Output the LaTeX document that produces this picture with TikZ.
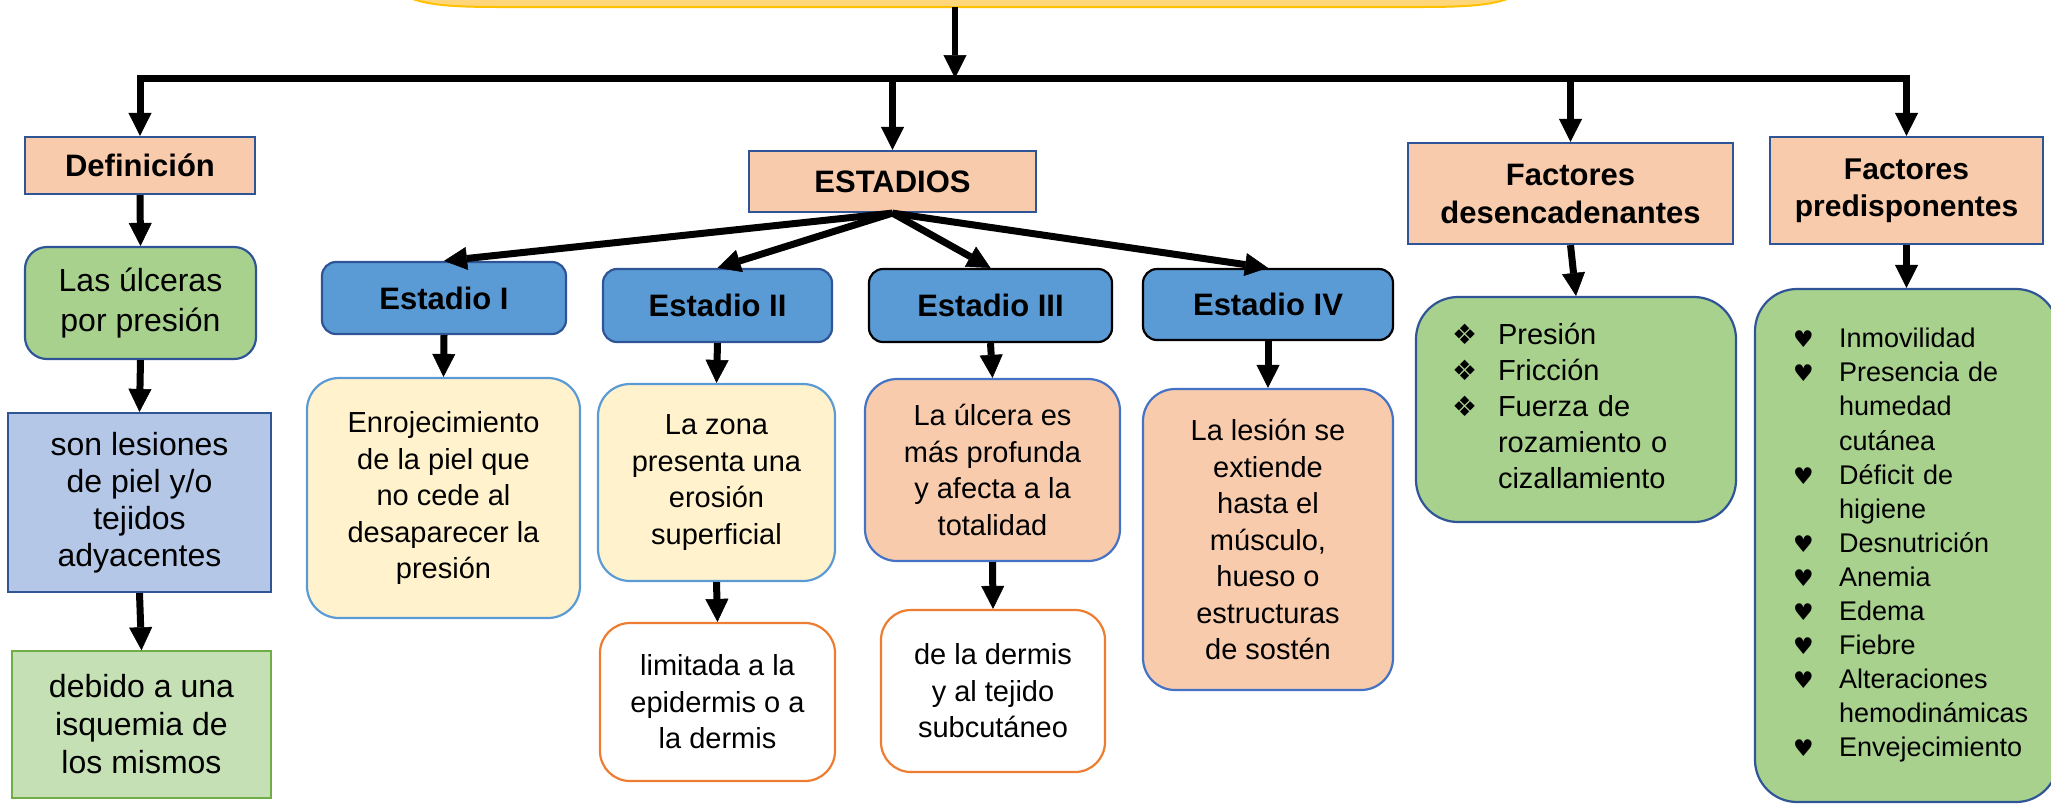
\documentclass[tikz,border=0pt]{standalone}
\usepackage{fontspec}
\setmainfont{Liberation Sans}
\newfontfamily\symfont{DejaVu Sans}
\usetikzlibrary{arrows.meta}
\definecolor{peach}{HTML}{F8CBAD}
\definecolor{dblue}{HTML}{2F5597}
\definecolor{gfill}{HTML}{A9D18E}
\definecolor{lblue}{HTML}{B4C7E7}
\definecolor{lgreen}{HTML}{C5E0B4}
\definecolor{ggreen}{HTML}{70AD47}
\definecolor{sblue}{HTML}{5B9BD5}
\definecolor{cream}{HTML}{FFF2CC}
\definecolor{mblue}{HTML}{4472C4}
\definecolor{orng}{HTML}{ED7D31}
\definecolor{topfill}{HTML}{FFD77A}
\definecolor{topline}{HTML}{FFC000}
\newcommand\bullA{{\symfont\fontsize{28}{28}\selectfont ❖}}
\newcommand\bullH{{\symfont\fontsize{23}{23}\selectfont ♥}}
\tikzset{
  bx/.style={inner sep=0pt, align=center, line width=2.2pt, text=black},
  hdr/.style={bx, rectangle, fill=peach, draw=dblue, font={\fontsize{31}{38}\selectfont\bfseries}},
  stg/.style={bx, rounded corners=14pt, fill=sblue, draw=dblue, font={\fontsize{31}{38}\selectfont\bfseries}},
  cre/.style={bx, rounded corners=32pt, fill=cream, draw=sblue, font={\fontsize{29}{36.5}\selectfont}},
  pch/.style={bx, rounded corners=32pt, fill=peach, draw=mblue, font={\fontsize{29}{36.5}\selectfont}},
  wht/.style={bx, rounded corners=30pt, fill=white, draw=orng, font={\fontsize{29}{36.5}\selectfont}},
  lst/.style={bx, rounded corners=42pt, fill=gfill, draw=dblue},
  tipA/.tip={Triangle[width=23pt,length=23pt,line width=0.5pt]},
  conn/.style={line width=7pt, -tipA},
}
\begin{document}
\begin{tikzpicture}[x=1pt,y=-1pt]
\useasboundingbox (0,0) rectangle (2051,807);
% title box (cut off at the top)
\draw[draw=topline, fill=topfill, line width=2pt] (393,-12) .. controls (412,4) and (440,7) .. (500,7) -- (1420,7) .. controls (1480,7) and (1508,4) .. (1527,-12) -- cycle;
\coordinate (topc) at (955,7);
\coordinate (bar) at (0,78);

% left column
\node[hdr, minimum width=230pt, minimum height=57pt] (def) at (140,165.5) {Definición};
\node[bx, rounded corners=22pt, fill=gfill, draw=dblue, font={\fontsize{32}{40}\selectfont}, minimum width=231pt, minimum height=112pt] (ulc) at (140.5,303) {Las úlceras\\por presión};
\node[bx, fill=lblue, draw=dblue, font={\fontsize{32}{37}\selectfont}, minimum width=263pt, minimum height=179pt] (son) at (139.5,502.5) {son lesiones\\de piel y/o\\tejidos\\adyacentes};
\node[bx, fill=lgreen, draw=ggreen, line width=1.5pt, font={\fontsize{32}{38}\selectfont}, minimum width=259pt, minimum height=147pt] (deb) at (141.5,724.5) {debido a una\\isquemia de\\los mismos};

% estadios
\node[hdr, minimum width=287pt, minimum height=61pt] (est) at (892.5,181.5) {ESTADIOS};
\node[stg, minimum width=244pt, minimum height=72pt] (e1) at (444,298) {Estadio I};
\node[stg, minimum width=229pt, minimum height=73pt] (e2) at (717.5,305.5) {Estadio II};
\node[stg, draw=black, minimum width=243pt, minimum height=73pt] (e3) at (990.5,305.5) {Estadio III};
\node[stg, draw=black, minimum width=250pt, minimum height=71pt] (e4) at (1268,304.5) {Estadio IV};
\node[cre, minimum width=273pt, minimum height=240pt] (t1) at (443.5,498) {Enrojecimiento\\de la piel que\\no cede al\\desaparecer la\\presión};
\node[cre, minimum width=237pt, minimum height=197pt] (t2) at (716.5,482.5) {La zona\\presenta una\\erosión\\superficial};
\node[wht, minimum width=235pt, minimum height=158pt] (t2b) at (717.5,702) {limitada a la\\epidermis o a\\la dermis};
\node[pch, minimum width=255pt, minimum height=182pt] (t3) at (992.5,470) {La úlcera es\\más profunda\\y afecta a la\\totalidad};
\node[wht, minimum width=224pt, minimum height=162pt] (t3b) at (993,691) {de la dermis\\y al tejido\\subcutáneo};
\node[pch, minimum width=250pt, minimum height=301pt] (t4) at (1268,539.5) {La lesión se\\extiende\\hasta el\\músculo,\\hueso o\\estructuras\\de sostén};

% factores
\node[hdr, minimum width=325pt, minimum height=101pt] (fd) at (1570.5,193.5) {Factores\\desencadenantes};
\node[hdr, font={\fontsize{30}{37}\selectfont\bfseries}, minimum width=273pt, minimum height=107pt] (fp) at (1906.5,190.5) {Factores\\predisponentes};
\node[lst, minimum width=320pt, minimum height=225pt, text width=320pt, align=left, font={\fontsize{29}{36}\selectfont}] (l1) at (1576,409.5) {\hspace*{36pt}\begin{tabular}{@{}p{46pt}@{}l@{}}\bullA&Presión\\\bullA&Fricción\\\bullA&Fuerza de\\&rozamiento o\\&cizallamiento\end{tabular}};
\node[lst, minimum width=303pt, minimum height=513pt, text width=303pt, align=left, font={\fontsize{27}{34.1}\selectfont}] (l2) at (1906.5,545.5) {\hspace*{38pt}\raisebox{8pt}{\begin{tabular}{@{}p{46pt}@{}l@{}}\bullH&Inmovilidad\\\bullH&Presencia de\\&humedad\\&cutánea\\\bullH&Déficit de\\&higiene\\\bullH&Desnutrición\\\bullH&Anemia\\\bullH&Edema\\\bullH&Fiebre\\\bullH&Alteraciones\\&hemodinámicas\\\bullH&Envejecimiento\end{tabular}}};

% connectors
\draw[line width=6pt, -tipA] (topc) -- (topc |- bar);
\draw[conn, tipA-tipA, line join=miter] (def.north) -- (def.north |- bar) -- (fp.north |- bar) -- (fp.north);
\draw[conn] (est.north |- bar) -- (est.north);
\draw[conn] (fd.north |- bar) -- (fd.north);
\draw[conn] (def.south) -- (ulc.north);
\draw[conn] (ulc.south) -- (son.north);
\draw[conn] (son.south) -- (deb.north);
\draw[conn] (est.south) -- (e1.north);
\draw[conn] (est.south) -- (e2.north);
\draw[conn] (est.south) -- (e3.north);
\draw[conn] (est.south) -- (e4.north);
\draw[conn] (e1.south) -- (t1.north);
\draw[conn] (e2.south) -- (t2.north);
\draw[conn] (e3.south) -- (t3.north);
\draw[conn] (e4.south) -- (t4.north);
\draw[conn] (t2.south) -- (t2b.north);
\draw[conn] (t3.south) -- (t3b.north);
\draw[conn] (fd.south) -- (l1.north);
\draw[conn] (fp.south) -- (l2.north);
\end{tikzpicture}
\end{document}
